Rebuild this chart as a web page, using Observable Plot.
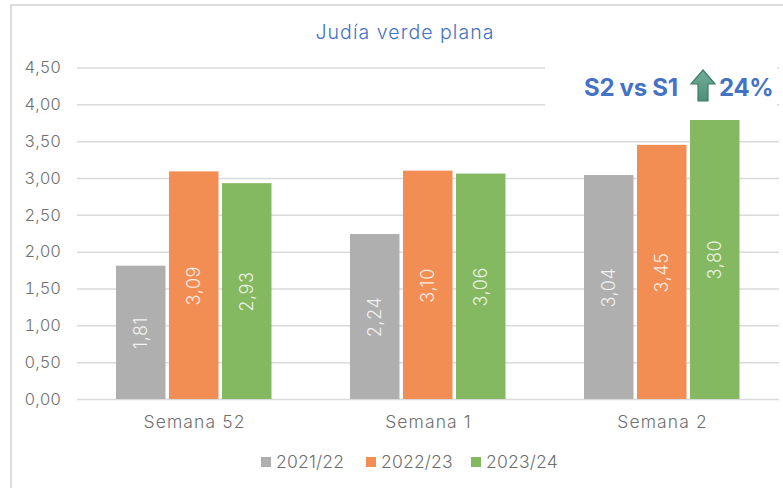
<!DOCTYPE html>
<html><head><meta charset="utf-8">
<script src="https://cdn.jsdelivr.net/npm/d3@7"></script>
<script src="https://cdn.jsdelivr.net/npm/@observablehq/plot@0.6"></script>
<style>
html,body{margin:0;padding:0;background:#fff;}
#page{position:relative;width:783px;height:488px;overflow:hidden;font-family:Inter,sans-serif;font-weight:300;}
#frame{position:absolute;left:10px;top:4px;right:-4px;bottom:-4px;border-left:2px solid #dcdcdc;border-top:2px solid #dcdcdc;}
#title{position:absolute;left:12px;width:786px;top:20px;text-align:center;font-size:19.5px;letter-spacing:1.05px;color:#4472c4;white-space:nowrap;}
#chart{position:absolute;left:0;top:40px;}
#note{position:absolute;left:545px;top:66px;width:232px;height:54px;background:#fff;color:#4472c4;font-weight:700;font-size:24px;letter-spacing:-.3px;white-space:nowrap;}
#note span{position:absolute;top:7px;}
#note svg{position:absolute;left:144px;top:3px;}
#legend{position:absolute;top:451px;left:261px;font-size:17.5px;letter-spacing:.2px;color:#6f6f6f;display:flex;white-space:nowrap;line-height:22px;}
#legend i{display:inline-block;width:10px;height:10px;margin-right:5px;}
#legend div{display:flex;align-items:center;width:105px;}
g[aria-label="fx-axis tick label"] text{letter-spacing:1.1px;}
g[aria-label="text"] text{letter-spacing:.6px;}
</style></head><body>
<div id="page">
<div id="frame"></div>
<div id="title"></div>
<div id="chart"></div>
<div id="note"><span style="left:39px">S2 vs S1</span>
<svg width="28" height="34" viewBox="0 0 28 34"><defs><linearGradient id="g" x1="0" y1="0" x2="0" y2="1"><stop offset="0" stop-color="#6fae98"/><stop offset="1" stop-color="#4f9078"/></linearGradient></defs><path d="M14 1 L26 15 L19 15 L19 32 L9 32 L9 15 L2 15 Z" fill="url(#g)" stroke="#3f7a64" stroke-width="1.2"/></svg>
<span style="left:174px">24%</span></div>
<div id="legend"></div>
</div>
<script>
const titleText = "Judía verde plana";
const weeks = ["Semana 52", "Semana 1", "Semana 2"];
const seasons = ["2021/22", "2022/23", "2023/24"];
const colors = ["#afafaf", "#f28e54", "#84b962"];
const v2122 = [1.81, 2.24, 3.04];
const v2223 = [3.09, 3.10, 3.45];
const v2324 = [2.93, 3.06, 3.80];
const yTicks = [0, .5, 1, 1.5, 2, 2.5, 3, 3.5, 4, 4.5];
const series = [v2122, v2223, v2324];
const rows = seasons.flatMap((s, i) => weeks.map((w, j) => ({week: w, season: s, value: series[i][j]})));
const comma = d => d.toFixed(2).replace(".", ",");

document.getElementById("title").textContent = titleText;
document.getElementById("legend").innerHTML = seasons.map((s, i) =>
  `<div><i style="background:${colors[i]}"></i>${s}</div>`).join("");

const chart = Plot.plot({
  width: 783, height: 400,
  marginLeft: 76.5, marginRight: 4.5, marginTop: 27.5, marginBottom: 41,
  style: {fontFamily: "Inter, sans-serif", fontWeight: 300, fontSize: "16px", background: "transparent", overflow: "visible"},
  fx: {domain: weeks, padding: 0, label: null},
  x: {domain: seasons, paddingInner: 0.0926, paddingOuter: 0.713, axis: null},
  y: {domain: [0, 4.5], label: null},
  color: {domain: seasons, range: colors},
  marks: [
    Plot.gridY(yTicks, {stroke: "#dadada", strokeOpacity: 1, strokeWidth: 1.5}),
    Plot.axisY(yTicks, {tickSize: 0, tickPadding: 16.5, tickFormat: comma, fill: "#707070", fontSize: 16.5, label: null}),
    Plot.axisFx({anchor: "bottom", tickSize: 0, tickPadding: 16, fill: "#707070", fontSize: 17.5, label: null}),
    Plot.barY(rows, {fx: "week", x: "season", y: "value", fill: "season", insetLeft: -0.5, insetRight: -1}),
    Plot.text(rows, {fx: "week", x: "season", y: d => d.value / 2, text: d => comma(d.value),
      rotate: -90, fill: "#ffffff", fillOpacity: .85, fontSize: 18})
  ]
});
document.getElementById("chart").appendChild(chart);
</script>
</body></html>
